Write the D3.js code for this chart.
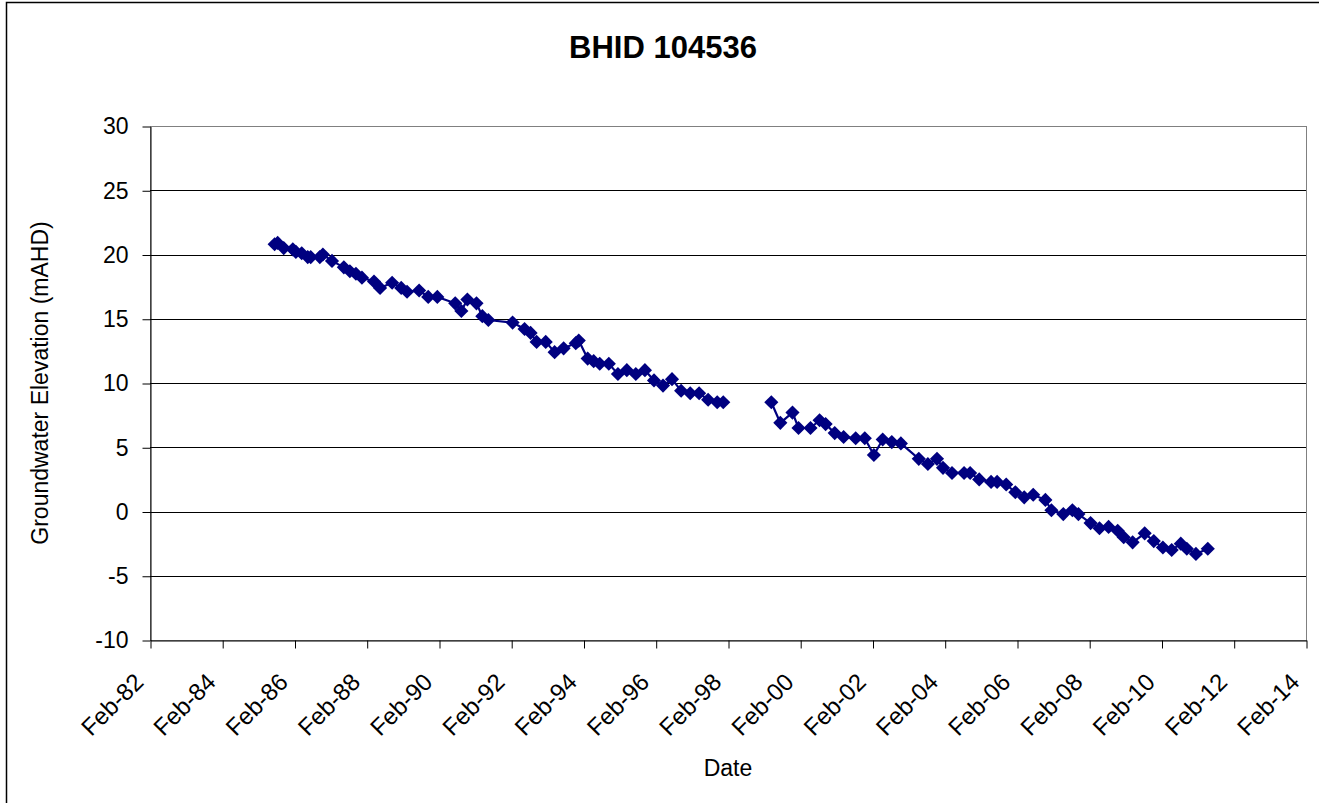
<!DOCTYPE html>
<html>
<head>
<meta charset="utf-8">
<title>BHID 104536</title>
<style>
  body { margin: 0; background: #fff; }
  text { font-family: Arial, "Liberation Sans", sans-serif; fill: #000; }
</style>
</head>
<body>
<svg id="chart" width="1319" height="803"></svg>
<script src="https://cdn.jsdelivr.net/npm/d3@7"></script>
<script>
// measurement dates (null value = gap in record)
var dates = [
  "1985-07-15","1985-08-15","1985-10-15","1986-01-15","1986-02-15","1986-04-15","1986-06-15","1986-07-15",
  "1986-10-15","1986-11-15","1987-02-15","1987-06-15","1987-08-15","1987-10-15","1987-12-15","1988-04-15",
  "1988-06-15","1988-10-15","1989-01-15","1989-03-15","1989-07-15","1989-10-15","1990-01-15","1990-07-15",
  "1990-09-15","1990-11-15","1991-02-15","1991-04-15","1991-06-15","1992-02-15","1992-06-15","1992-08-15",
  "1992-10-15","1993-01-15","1993-04-15","1993-07-15","1993-11-15","1993-12-15","1994-03-15","1994-05-15",
  "1994-07-15","1994-10-15","1995-01-15","1995-04-15","1995-07-15","1995-10-15","1996-01-15","1996-04-15",
  "1996-07-15","1996-10-15","1997-01-15","1997-04-15","1997-07-15","1997-10-15","1997-12-15","1998-09-15",
  "1999-04-15","1999-07-15","1999-11-15","2000-01-15","2000-05-15","2000-08-15","2000-10-15","2001-01-15",
  "2001-04-15","2001-08-15","2001-11-15","2002-02-15","2002-05-15","2002-08-15","2002-11-15","2003-05-15",
  "2003-08-15","2003-11-15","2004-01-15","2004-04-15","2004-08-15","2004-10-15","2005-01-15","2005-05-15",
  "2005-07-15","2005-10-15","2006-01-15","2006-04-15","2006-07-15","2006-11-15","2007-01-15","2007-05-15",
  "2007-08-15","2007-10-15","2008-02-15","2008-05-15","2008-08-15","2008-11-15","2009-01-15","2009-04-15",
  "2009-08-15","2009-11-15","2010-02-15","2010-05-15","2010-08-15","2010-10-15","2011-01-15","2011-05-15"
];
var elevations = [
  20.8, 20.9, 20.5, 20.4, 20.2, 20.1, 19.8, 19.8,
  19.8, 20.0, 19.5, 19.0, 18.7, 18.5, 18.2, 17.9,
  17.4, 17.8, 17.4, 17.1, 17.2, 16.7, 16.7, 16.2,
  15.6, 16.5, 16.2, 15.2, 14.9, 14.7, 14.2, 13.9,
  13.2, 13.2, 12.4, 12.7, 13.1, 13.3, 11.9, 11.7,
  11.5, 11.5, 10.7, 11.0, 10.7, 11.0, 10.2, 9.8,
  10.3, 9.4, 9.2, 9.2, 8.7, 8.5, 8.5, null,
  8.5, 6.9, 7.7, 6.5, 6.5, 7.1, 6.8, 6.1,
  5.8, 5.7, 5.7, 4.4, 5.6, 5.4, 5.3, 4.1,
  3.7, 4.1, 3.4, 3.0, 3.0, 3.0, 2.5, 2.3,
  2.3, 2.1, 1.5, 1.1, 1.3, 0.9, 0.1, -0.2,
  0.1, -0.2, -0.9, -1.3, -1.2, -1.5, -2.0, -2.4,
  -1.7, -2.3, -2.8, -3.0, -2.5, -2.9, -3.3, -2.9
];
var yTicks = [-10, -5, 0, 5, 10, 15, 20, 25, 30];
var xTickYears = [1982, 1984, 1986, 1988, 1990, 1992, 1994, 1996, 1998, 2000, 2002, 2004, 2006, 2008, 2010, 2012, 2014];

var parse = d3.timeParse("%Y-%m-%d");
var data = dates.map(function(d, i) { return {date: parse(d), v: elevations[i]}; });

// plot area edges
var pLeft = 150, pRight = 1306, pTop = 126, pBottom = 640;
var svg = d3.select("#chart");

// chart outer border
svg.append("rect")
    .attr("x", 6.5).attr("y", 2.5)
    .attr("width", 1330).attr("height", 820)
    .attr("fill", "none").attr("stroke", "#000").attr("stroke-width", 1.5);

var x = d3.scaleTime()
    .domain([new Date(1982, 1, 1), new Date(2014, 1, 1)])
    .range([pLeft, pRight]);
var y = d3.scaleLinear().domain([-10, 30]).range([pBottom, pTop]);

// plot area border (top/right are grey)
svg.append("rect")
    .attr("x", pLeft + 0.5).attr("y", pTop + 0.5)
    .attr("width", pRight - pLeft).attr("height", pBottom - pTop)
    .attr("fill", "none").attr("stroke", "#808080");

// gridlines
svg.append("g").selectAll("line")
    .data(yTicks.filter(function(t) { return t > -10 && t < 30; }))
    .enter().append("line")
    .attr("x1", pLeft).attr("x2", pRight)
    .attr("y1", function(d) { return Math.round(y(d)) + 0.5; })
    .attr("y2", function(d) { return Math.round(y(d)) + 0.5; })
    .attr("stroke", "#000").attr("stroke-width", 1);

// y axis (plain hyphen for negatives, like the original)
var yAxis = svg.append("g")
    .attr("transform", "translate(" + (pLeft + 0.5) + ",0.5)")
    .call(d3.axisLeft(y).tickValues(yTicks).tickFormat(function(d) { return String(d); })
      .tickSize(8).tickSizeOuter(0));
yAxis.select(".domain").attr("stroke", "#000");
yAxis.selectAll(".tick line").attr("stroke", "#000");
yAxis.selectAll(".tick text")
    .attr("x", -22)
    .style("font-size", "23px").style("font-family", "Arial, 'Liberation Sans', sans-serif");

// x axis
var xTicks = xTickYears.map(function(yr) { return new Date(yr, 1, 1); });
var xAxis = svg.append("g")
    .attr("transform", "translate(0.5," + (pBottom + 0.5) + ")")
    .call(d3.axisBottom(x).tickValues(xTicks).tickFormat(d3.timeFormat("%b-%y")).tickSize(8).tickSizeOuter(0));
xAxis.select(".domain").attr("stroke", "#000");
xAxis.selectAll(".tick line").attr("stroke", "#000");
xAxis.selectAll(".tick text")
    .attr("y", 0).attr("dy", 0)
    .attr("text-anchor", "end")
    .attr("transform", "translate(-6,43) rotate(-45)")
    .style("font-size", "24px").style("font-family", "Arial, 'Liberation Sans', sans-serif");

// series line
var line = d3.line()
    .defined(function(d) { return d.v != null; })
    .x(function(d) { return x(d.date); })
    .y(function(d) { return y(d.v); });

svg.append("path")
    .datum(data)
    .attr("d", line)
    .attr("fill", "none")
    .attr("stroke", "#000080")
    .attr("stroke-width", 2.2);

// diamond markers
var diamond = d3.symbol().type(d3.symbolSquare).size(100);
svg.append("g").selectAll("path")
    .data(data.filter(function(d) { return d.v != null; }))
    .enter().append("path")
    .attr("d", diamond)
    .attr("transform", function(d) { return "translate(" + x(d.date) + "," + y(d.v) + ") rotate(45)"; })
    .attr("fill", "#000080");

// title and axis labels
svg.append("text")
    .attr("x", 663).attr("y", 58)
    .attr("text-anchor", "middle")
    .style("font-size", "31px").style("font-weight", "bold")
    .text("BHID 104536");

svg.append("text")
    .attr("x", (pLeft + pRight) / 2).attr("y", 776)
    .attr("text-anchor", "middle")
    .style("font-size", "23px")
    .text("Date");

svg.append("text")
    .attr("transform", "translate(48," + ((pTop + pBottom) / 2) + ") rotate(-90)")
    .attr("text-anchor", "middle")
    .style("font-size", "23px")
    .text("Groundwater Elevation (mAHD)");
</script>
</body>
</html>
